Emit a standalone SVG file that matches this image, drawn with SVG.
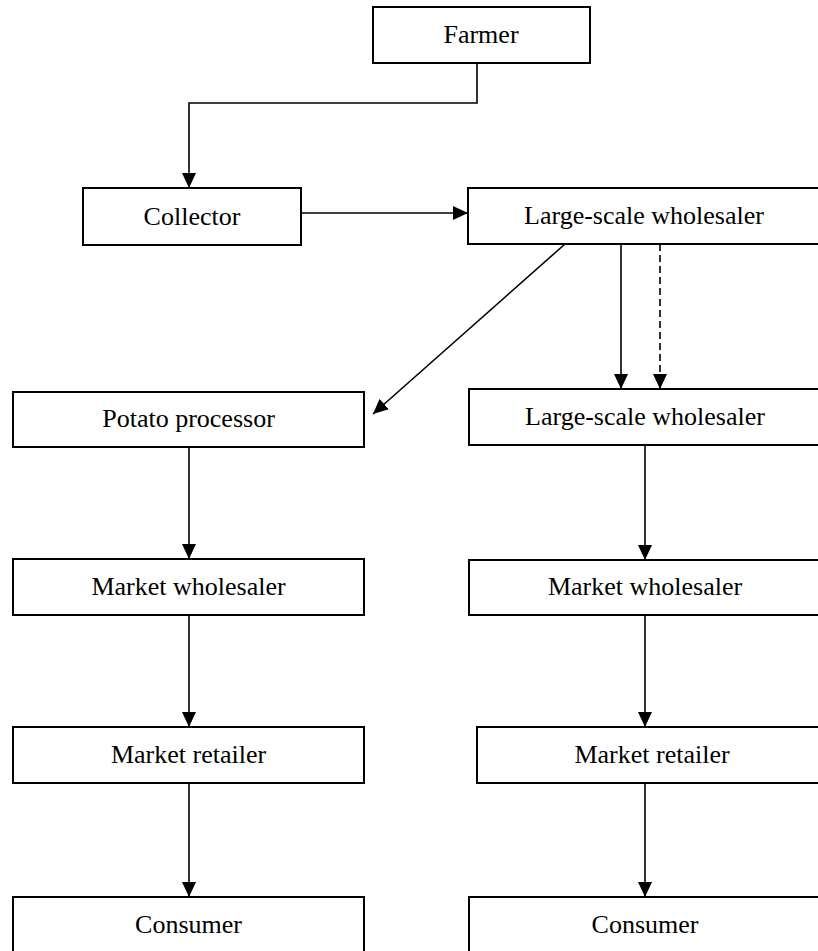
<svg xmlns="http://www.w3.org/2000/svg" width="818" height="951" viewBox="0 0 818 951">
<style>
.box{fill:#fff;stroke:#000;stroke-width:2}
.lbl{font-family:"Liberation Serif","Times New Roman",serif;font-size:26px;fill:#000;text-anchor:middle}
.ln{fill:none;stroke:#000;stroke-width:1.6}
.dash{stroke-dasharray:7 4}
</style>
<defs>
<marker id="ah" markerUnits="userSpaceOnUse" markerWidth="16" markerHeight="14" refX="15" refY="7" orient="auto">
<path d="M0,0 L15,7 L0,14 z" fill="#000"/>
</marker>
</defs>
<rect width="818" height="951" fill="#fff"/>
<g id="connectors">
<polyline class="ln" points="477,63 477,103 189,103 189,188" marker-end="url(#ah)"/>
<line class="ln" x1="301" y1="213" x2="468" y2="213" marker-end="url(#ah)"/>
<line class="ln" x1="621" y1="244" x2="621" y2="389" marker-end="url(#ah)"/>
<line class="ln dash" x1="660" y1="244" x2="660" y2="389" marker-end="url(#ah)"/>
<line class="ln" x1="565" y1="244" x2="373" y2="414" marker-end="url(#ah)"/>
<line class="ln" x1="189" y1="447" x2="189" y2="559" marker-end="url(#ah)"/>
<line class="ln" x1="189" y1="615" x2="189" y2="727" marker-end="url(#ah)"/>
<line class="ln" x1="189" y1="783" x2="189" y2="897" marker-end="url(#ah)"/>
<line class="ln" x1="645" y1="445" x2="645" y2="560" marker-end="url(#ah)"/>
<line class="ln" x1="645" y1="615" x2="645" y2="727" marker-end="url(#ah)"/>
<line class="ln" x1="645" y1="783" x2="645" y2="897" marker-end="url(#ah)"/>
</g>
<g id="farmer"><rect class="box" x="373" y="7" width="217" height="56"/><text class="lbl" x="481" y="43">Farmer</text></g>
<g id="collector"><rect class="box" x="83" y="188" width="218" height="57"/><text class="lbl" x="192" y="225">Collector</text></g>
<g id="lsw1"><rect class="box" x="468" y="188" width="353" height="56"/><text class="lbl" x="644" y="224">Large-scale wholesaler</text></g>
<g id="potato"><rect class="box" x="13" y="392" width="351" height="55"/><text class="lbl" x="188.5" y="427">Potato processor</text></g>
<g id="lsw2"><rect class="box" x="469" y="389" width="352" height="56"/><text class="lbl" x="645" y="425">Large-scale wholesaler</text></g>
<g id="mw-left"><rect class="box" x="13" y="559" width="351" height="56"/><text class="lbl" x="188.5" y="595">Market wholesaler</text></g>
<g id="mw-right"><rect class="box" x="469" y="560" width="352" height="55"/><text class="lbl" x="645" y="595">Market wholesaler</text></g>
<g id="mr-left"><rect class="box" x="13" y="727" width="351" height="56"/><text class="lbl" x="188.5" y="763">Market retailer</text></g>
<g id="mr-right"><rect class="box" x="477" y="727" width="350" height="56"/><text class="lbl" x="652" y="763">Market retailer</text></g>
<g id="consumer-left"><rect class="box" x="13" y="897" width="351" height="56"/><text class="lbl" x="188.5" y="933">Consumer</text></g>
<g id="consumer-right"><rect class="box" x="469" y="897" width="352" height="56"/><text class="lbl" x="645" y="933">Consumer</text></g>
</svg>
